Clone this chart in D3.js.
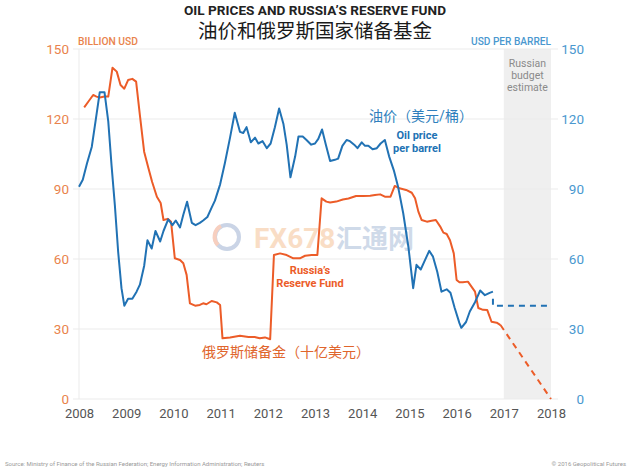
<!DOCTYPE html>
<html>
<head>
<meta charset="utf-8">
<script src="https://cdn.jsdelivr.net/npm/d3@7"></script>
<style>
  body { margin: 0; background: #fff; }
  svg text { font-family: Roboto, "Noto Sans CJK SC", sans-serif; }
</style>
</head>
<body>
<svg id="chart" width="630" height="473"></svg>
<script>
// Oil price, USD per barrel (right axis)
var oilYears = [2008.00, 2008.08, 2008.17, 2008.27, 2008.35, 2008.44, 2008.54, 2008.62, 2008.69, 2008.76,
  2008.83, 2008.90, 2008.96, 2009.04, 2009.13, 2009.22, 2009.29, 2009.38, 2009.45, 2009.54,
  2009.62, 2009.72, 2009.79, 2009.89, 2009.98, 2010.05, 2010.14, 2010.21, 2010.29, 2010.39,
  2010.47, 2010.56, 2010.63, 2010.72, 2010.81, 2010.88, 2010.99, 2011.09, 2011.20, 2011.30,
  2011.41, 2011.48, 2011.55, 2011.64, 2011.73, 2011.80, 2011.89, 2011.98, 2012.06, 2012.15,
  2012.24, 2012.33, 2012.40, 2012.48, 2012.58, 2012.65, 2012.74, 2012.82, 2012.92, 2013.00,
  2013.07, 2013.15, 2013.23, 2013.32, 2013.42, 2013.49, 2013.58, 2013.67, 2013.74, 2013.83,
  2013.90, 2013.99, 2014.06, 2014.13, 2014.22, 2014.31, 2014.39, 2014.48, 2014.57, 2014.67,
  2014.76, 2014.87, 2014.98, 2015.08, 2015.15, 2015.24, 2015.33, 2015.42, 2015.50, 2015.59,
  2015.68, 2015.79, 2015.87, 2015.96, 2016.06, 2016.10, 2016.20, 2016.28, 2016.39, 2016.50,
  2016.60, 2016.70, 2016.77];
var oilValues = [91, 94, 101, 108, 119, 131.5, 131.5, 119, 100, 83,
  63, 47.5, 40, 43, 43, 46, 49, 57, 68, 64.5,
  72, 67.5, 72, 77, 74.5, 76.5, 73.5, 79, 84.5, 75.5,
  74.5, 75.5, 76.5, 78, 82, 85, 92, 101, 112, 122.7,
  114.5, 114, 116.5, 110, 112, 109.5, 110.5, 107.5, 109.5, 116.5,
  124.5, 118, 109, 95, 104, 112.5, 112.5, 111, 109, 109.5,
  111.5, 115.5, 109, 102, 102.5, 103, 108.5, 111, 110.5, 109,
  107.5, 110, 108.5, 108.5, 107, 107.5, 109.5, 111, 104, 98,
  91, 79.5, 65, 47.5, 57.5, 55.5, 59.5, 63.5, 61, 54.5,
  46, 47, 45.5, 39, 32.5, 30.5, 33, 37.5, 41.5, 46.5,
  44.5, 45.5, 46];
// Russian budget oil price assumption (dashed)
var budgetOilYears = [2016.77, 2016.77, 2018];
var budgetOilValues = [43, 40, 40];

// Reserve Fund, billion USD (left axis)
var fundYears = [2008.11, 2008.20, 2008.30, 2008.37, 2008.44, 2008.54, 2008.62, 2008.71, 2008.80, 2008.88,
  2008.96, 2009.04, 2009.13, 2009.21, 2009.29, 2009.38, 2009.47, 2009.55, 2009.65, 2009.73,
  2009.79, 2009.88, 2009.95, 2010.03, 2010.14, 2010.21, 2010.28, 2010.35, 2010.46, 2010.56,
  2010.63, 2010.70, 2010.81, 2010.92, 2010.99, 2011.04, 2011.20, 2011.41, 2011.59, 2011.72,
  2011.83, 2011.94, 2012.05, 2012.13, 2012.26, 2012.40, 2012.54, 2012.68, 2012.79, 2012.93,
  2013.05, 2013.14, 2013.24, 2013.32, 2013.45, 2013.59, 2013.71, 2013.87, 2014.02, 2014.17,
  2014.27, 2014.38, 2014.48, 2014.60, 2014.69, 2014.79, 2014.93, 2015.05, 2015.12, 2015.19,
  2015.26, 2015.37, 2015.47, 2015.56, 2015.65, 2015.72, 2015.79, 2015.86, 2015.94, 2016.00,
  2016.06, 2016.13, 2016.24, 2016.39, 2016.46, 2016.56, 2016.65, 2016.74, 2016.85, 2016.93];
var fundValues = [125, 127.5, 130.3, 129.6, 129.2, 129.6, 129.6, 142, 140.3, 134.6,
  133, 136.7, 137.2, 136, 121.7, 106, 99, 93, 86.7, 84,
  76.7, 77.2, 76, 60.3, 59.6, 58.2, 53.2, 41, 40, 40.3,
  41, 40.6, 42, 41.4, 40.3, 26, 26.4, 27.1, 26.6, 26.6,
  26, 26.4, 25.6, 61.7, 62.4, 61.7, 60.3, 60.3, 61.4, 61.7,
  61.7, 86, 84.6, 84.2, 84.6, 85.5, 85.9, 87, 87, 87.1,
  87.4, 87.7, 86.7, 86.7, 91.3, 90.3, 89.6, 88.4, 86, 80.3,
  76.7, 76, 76.4, 76.7, 74, 71.3, 70.7, 68, 62.4, 51,
  50, 50, 50.3, 46, 39, 38.2, 38.1, 33.1, 32.7, 31.7];
// Budget estimate for the fund (dashed)
var projFundYears = [2016.93, 2018];
var projFundValues = [31.7, 0];

var yearTicks = [2008, 2009, 2010, 2011, 2012, 2013, 2014, 2015, 2016, 2017, 2018];
var valueTicks = [0, 30, 60, 90, 120, 150];

var ORANGE = '#ec5c28', BLUE = '#2172b4';
var ORANGE_LT = '#e9834c', BLUE_LT = '#4a98cf';

var svg = d3.select('#chart');

var x = d3.scaleLinear().domain([2008, 2018]).range([79, 551]);
var yLeft = d3.scaleLinear().domain([0, 150]).range([399, 49]);
var yRight = d3.scaleLinear().domain([0, 150]).range([399, 49]);

function zip(xs, ys) {
  return xs.map(function(d, i) { return [d, ys[i]]; });
}

// Titles
svg.append('text').attr('x', 315).attr('y', 15).attr('text-anchor', 'middle')
  .attr('font-size', 13).attr('font-weight', 'bold').attr('fill', '#222')
  .attr('textLength', 262).attr('lengthAdjust', 'spacingAndGlyphs')
  .text('OIL PRICES AND RUSSIA\u2019S RESERVE FUND');
svg.append('text').attr('x', 315).attr('y', 38).attr('text-anchor', 'middle')
  .attr('font-size', 19.5).attr('fill', '#1a1a1a')
  .text('油价和俄罗斯国家储备基金');

// Budget estimate band
svg.append('rect')
  .attr('x', x(2017)).attr('y', yLeft(150))
  .attr('width', x(2018) - x(2017)).attr('height', yLeft(0) - yLeft(150))
  .attr('fill', '#efefef');
svg.selectAll('.band-label').data(['Russian', 'budget', 'estimate']).enter()
  .append('text').attr('class', 'band-label')
  .attr('x', (x(2017) + x(2018)) / 2).attr('y', function(d, i) { return 67 + i * 12; })
  .attr('text-anchor', 'middle').attr('font-size', 10.5).attr('fill', '#8a8a8a')
  .text(function(d) { return d; });

// Gridlines
svg.selectAll('.grid').data(valueTicks).enter()
  .append('line').attr('class', 'grid')
  .attr('x1', 73).attr('x2', 558)
  .attr('y1', function(d) { return yLeft(d); }).attr('y2', function(d) { return yLeft(d); })
  .attr('stroke', '#ebebeb').attr('stroke-width', 1);
svg.append('line').attr('x1', 79).attr('x2', 79).attr('y1', yLeft(150)).attr('y2', yLeft(0))
  .attr('stroke', '#ebebeb');

// Watermark
var wm = svg.append('g').attr('opacity', 0.55);
wm.append('circle').attr('cx', 227).attr('cy', 237).attr('r', 12)
  .attr('fill', 'none').attr('stroke', '#9fb2d2').attr('stroke-width', 4);
wm.append('path').attr('d', 'M218,245 A12,12 0 0 1 221,226')
  .attr('fill', 'none').attr('stroke', '#f1a98c').attr('stroke-width', 4);
wm.append('text').attr('x', 254).attr('y', 248).attr('font-size', 28).attr('font-weight', 'bold')
  .attr('fill', '#f5c397').text('FX678');
wm.append('text').attr('x', 336).attr('y', 248).attr('font-size', 26).attr('font-weight', 'bold')
  .attr('fill', '#a9bcd8').text('汇通网');

// Axes
var xAxis = d3.axisBottom(x).tickValues(yearTicks).tickFormat(d3.format('d')).tickSize(0).tickPadding(10);
var gx = svg.append('g').attr('transform', 'translate(0,' + yLeft(0) + ')').call(xAxis);
gx.select('.domain').remove();
gx.selectAll('text').attr('font-size', 13).attr('fill', '#555').attr('font-family', 'Roboto');

var gl = svg.append('g').attr('transform', 'translate(69,0)')
  .call(d3.axisLeft(yLeft).tickValues(valueTicks).tickSize(0).tickPadding(0));
gl.select('.domain').remove();
gl.selectAll('text').attr('font-size', 13.5).attr('fill', ORANGE_LT).attr('font-family', 'Roboto');

var gr = svg.append('g').attr('transform', 'translate(584,0)')
  .call(d3.axisRight(yRight).tickValues(valueTicks).tickSize(0).tickPadding(0));
gr.select('.domain').remove();
gr.selectAll('text').attr('font-size', 13.5).attr('fill', BLUE_LT).attr('font-family', 'Roboto')
  .attr('text-anchor', 'end');

svg.append('text').attr('x', 78).attr('y', 45).attr('font-size', 11).attr('font-weight', 500)
  .attr('fill', ORANGE_LT).attr('textLength', 60).attr('lengthAdjust', 'spacingAndGlyphs')
  .text('BILLION USD');
svg.append('text').attr('x', 551).attr('y', 45).attr('text-anchor', 'end').attr('font-size', 11)
  .attr('font-weight', 500).attr('fill', BLUE_LT).attr('textLength', 80).attr('lengthAdjust', 'spacingAndGlyphs')
  .text('USD PER BARREL');

// Lines
var lineL = d3.line().x(function(d) { return x(d[0]); }).y(function(d) { return yLeft(d[1]); });
var lineR = d3.line().x(function(d) { return x(d[0]); }).y(function(d) { return yRight(d[1]); });

svg.append('path').datum(zip(fundYears, fundValues)).attr('d', lineL)
  .attr('fill', 'none').attr('stroke', ORANGE).attr('stroke-width', 2).attr('stroke-linejoin', 'round');
svg.append('path').datum(zip(projFundYears, projFundValues)).attr('d', lineL)
  .attr('fill', 'none').attr('stroke', ORANGE).attr('stroke-width', 2).attr('stroke-dasharray', '6,5');

svg.append('path').datum(zip(oilYears, oilValues)).attr('d', lineR)
  .attr('fill', 'none').attr('stroke', BLUE).attr('stroke-width', 2).attr('stroke-linejoin', 'round');
svg.append('path').datum(zip(budgetOilYears, budgetOilValues)).attr('d', lineR)
  .attr('fill', 'none').attr('stroke', BLUE).attr('stroke-width', 2).attr('stroke-dasharray', '6,5');

// Series labels
svg.append('text').attr('x', 421).attr('y', 121).attr('text-anchor', 'middle')
  .attr('font-size', 14).attr('fill', '#2f7fbd').text('油价（美元/桶）');
svg.selectAll('.oil-label').data(['Oil price', 'per barrel']).enter()
  .append('text').attr('class', 'oil-label')
  .attr('x', 417).attr('y', function(d, i) { return 139 + i * 12.5; })
  .attr('text-anchor', 'middle').attr('font-size', 11).attr('font-weight', 'bold')
  .attr('fill', BLUE).text(function(d) { return d; });

svg.selectAll('.fund-label').data(['Russia\u2019s', 'Reserve Fund']).enter()
  .append('text').attr('class', 'fund-label')
  .attr('x', 310).attr('y', function(d, i) { return 274 + i * 12.5; })
  .attr('text-anchor', 'middle').attr('font-size', 11).attr('font-weight', 'bold')
  .attr('fill', ORANGE).text(function(d) { return d; });
svg.append('text').attr('x', 286).attr('y', 357).attr('text-anchor', 'middle')
  .attr('font-size', 14).attr('fill', '#e0652c').text('俄罗斯储备金（十亿美元）');

// Footer
svg.append('text').attr('x', 5).attr('y', 466).attr('font-size', 6).attr('fill', '#999')
  .text('Source: Ministry of Finance of the Russian Federation; Energy Information Administration; Reuters');
svg.append('text').attr('x', 626).attr('y', 466).attr('text-anchor', 'end').attr('font-size', 6).attr('fill', '#999')
  .text('\u00a9 2016 Geopolitical Futures');
</script>
</body>
</html>
